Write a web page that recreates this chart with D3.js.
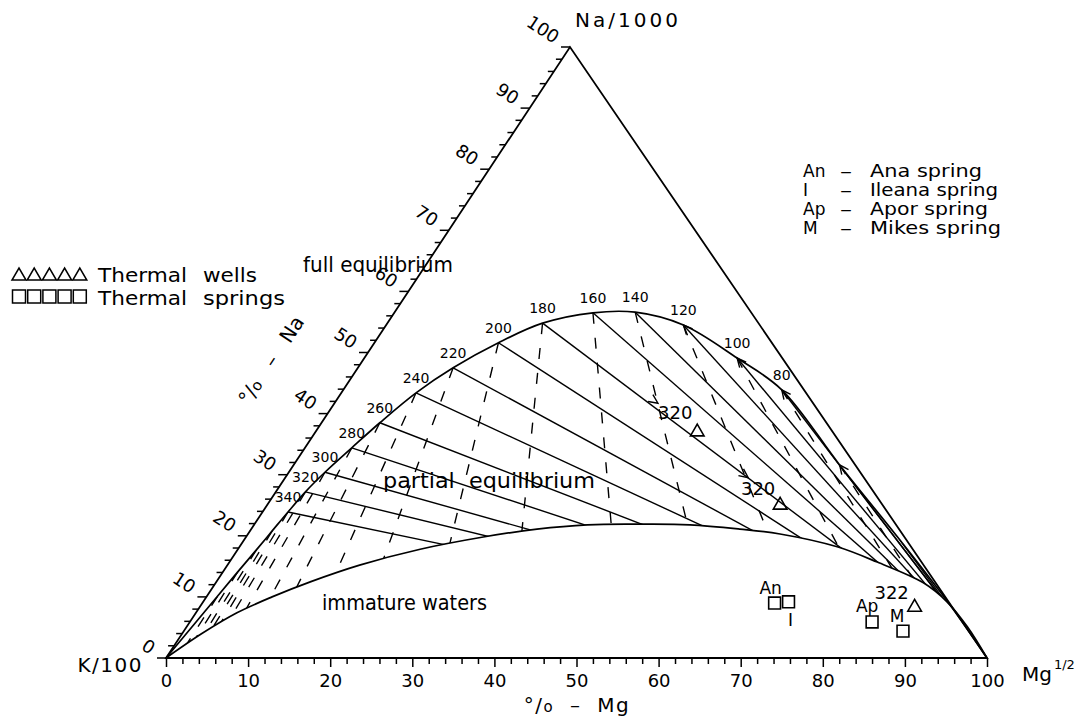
<!DOCTYPE html>
<html><head><meta charset="utf-8">
<script src="https://cdn.jsdelivr.net/npm/d3@7"></script>
<style>
body{margin:0;background:#fff}
svg{display:block}
text{font-family:"DejaVu Sans",sans-serif;fill:#000}
</style>
</head><body>
<svg id="c" width="1084" height="727"></svg>
<script>
// ---------------- data ----------------
const vertexNames = ["K/100", "Mg", "Na/1000"];
const axisTicks = d3.range(0, 101, 2);
const axisTitleMg = "Mg";
const axisTitleNa = "Na";

// full equilibrium curve (K vertex -> Mg vertex), %Mg, %Na, temperature label
const eqTemp = ["", "", "", "", "", "340", "320", "300", "280", "260", "240", "220", "200", "180", "160", "140", "120", "100", "80", "", "", "", ""];
const eqMg   = [0, 1.3, 1.8, 2.3, 2.7, 3.1, 3.6, 4.4, 5.7, 7.1, 9.1, 11.6, 15.1, 18.9, 24.2, 29.3, 36.2, 45.4, 53.4, 66.5, 79.9, 91.2, 100];
const eqNa   = [0, 10.1, 14.1, 17.7, 20.8, 23.9, 27.2, 30.4, 34.4, 38.5, 43.4, 47.5, 51.6, 54.8, 56.5, 56.6, 54.5, 49.1, 43.9, 31.6, 19.3, 8.7, 0];
const eqSolid = [0, 0, 0, 0, 0, 1, 1, 1, 1, 1, 1, 1, 1, 1, 1, 1, 1, 1, 1, 1, 1, 0, 0];
const eqDash  = [0, 1, 1, 1, 1, 1, 1, 1, 1, 1, 1, 1, 1, 1, 1, 1, 1, 1, 1, 1, 0, 0, 0];
const eqArrow = [0, 0, 0, 0, 0, 0, 0, 0, 0, 0, 0, 0, 0, 0, 0, 0, 1, 1, 1, 1, 0, 0, 0];

// immature waters curve (K vertex -> Mg vertex)
const imMg = [0, 2.4, 5.0, 8.0, 11.5, 16.1, 22.2, 28.9, 34.8, 40.6, 46.9, 53.1, 59.5, 64.8, 72.8, 78.9, 86.2, 90.6, 95.1, 100];
const imNa = [0, 4.0, 7.4, 10.0, 12.5, 15.2, 17.8, 19.8, 21.1, 21.8, 21.9, 21.8, 21.1, 20.3, 18.2, 15.7, 12.3, 9.2, 5.1, 0];

// arrow marks on an isotherm
const arrowMg = [39.4, 56.4];
const arrowNa = [41.7, 29.5];

// samples
const wellMg = [46.5, 62.5, 87.1];
const wellNa = [37.0, 25.0, 8.3];
const wellLabel = ["320", "320", "322"];
const springMg = [69.7, 71.3, 83.1, 87.6];
const springNa = [9.0, 9.2, 5.9, 4.4];
const springLabel = ["An", "I", "Ap", "M"];

// legends
const legendSymbols = ["triangle", "square"];
const legendWord1 = ["Thermal", "Thermal"];
const legendWord2 = ["wells", "springs"];
const springCodes = ["An", "I", "Ap", "M"];
const springNames = ["Ana spring", "Ileana spring", "Apor spring", "Mikes spring"];
const regionNames = ["full equilibrium", "partial  equilibrium", "immature waters"];

// ---------------- layout ----------------
const svg = d3.select("#c");
const Kp = [166, 658], Mp = [987, 658], Np = [570, 47];
const mgX = d3.scaleLinear().domain([0, 100]).range([0, Mp[0] - Kp[0]]);
const naX = d3.scaleLinear().domain([0, 100]).range([0, Np[0] - Kp[0]]);
const naY = d3.scaleLinear().domain([0, 100]).range([Kp[1], Np[1]]);
const P = (mg, na) => [Kp[0] + mgX(mg) + naX(na), naY(na)];
const line = d3.line();
const curve = d3.line().curve(d3.curveCatmullRom.alpha(0.5));

const eqPts = eqMg.map((m, i) => P(m, eqNa[i]));
const imPts = imMg.map((m, i) => P(m, imNa[i]));

// clip region: between full equilibrium curve and immature curve
const dEq = curve(eqPts);
const dIm = curve(imPts.slice().reverse());
svg.append("defs").append("clipPath").attr("id", "reg")
  .append("path").attr("d", dEq + dIm.replace(/^M/, "L") + "Z");

// triangle frame
svg.append("path").attr("d", line([Kp, Mp, Np]) + "Z")
  .attr("fill", "none").attr("stroke", "#000").attr("stroke-width", 1.8).attr("stroke-linejoin", "miter");

// bottom axis
const xs = d3.scaleLinear().domain([0, 100]).range([Kp[0], Mp[0]]);
const gx = svg.append("g").attr("transform", `translate(0,${Kp[1]})`)
  .call(d3.axisBottom(xs).tickValues(axisTicks).tickSize(6).tickSizeOuter(0).tickPadding(10)
    .tickFormat(d => d % 10 === 0 ? d : ""));
gx.attr("font-family", null).attr("font-size", null);
gx.select(".domain").remove();
gx.selectAll(".tick line").attr("stroke", "#000").attr("stroke-width", 1.5)
  .attr("y2", d => d % 10 === 0 ? 9 : 6);
gx.selectAll(".tick text").attr("font-size", 18).attr("fill", "#000");

// left axis (%Na)
const gl = svg.append("g");
const ang = Math.atan2(Np[1] - Kp[1], Np[0] - Kp[0]);
const nrm = [Math.sin(ang), -Math.cos(ang)]; // outward normal
const rotDeg = ang * 180 / Math.PI + 90;
axisTicks.forEach(v => {
  const p = P(0, v);
  gl.append("line").attr("x1", p[0]).attr("y1", p[1]).attr("x2", p[0] - (v % 10 === 0 ? 9 : 6)).attr("y2", p[1])
    .attr("stroke", "#000").attr("stroke-width", 1.5);
  if (v % 10 === 0) {
    const q = [p[0] + nrm[0] * 15, p[1] + nrm[1] * 15];
    gl.append("text").attr("x", q[0]).attr("y", q[1]).attr("text-anchor", "end")
      .attr("dominant-baseline", "central").attr("font-size", 18)
      .attr("transform", `rotate(${rotDeg},${q[0]},${q[1]})`).text(v);
  }
});

// curves
svg.append("path").attr("d", dEq).attr("fill", "none").attr("stroke", "#000").attr("stroke-width", 1.7);
svg.append("path").attr("d", curve(imPts)).attr("fill", "none").attr("stroke", "#000").attr("stroke-width", 1.7);

// isotherms
const gi = svg.append("g").attr("clip-path", "url(#reg)");
eqPts.forEach((p, i) => {
  if (eqSolid[i]) {
    gi.append("path").attr("d", line([p, P(100, 0)])).attr("stroke", "#000").attr("stroke-width", 1.4).attr("fill", "none");
  }
  if (eqDash[i]) {
    const mb = eqMg[i] / (1 - eqNa[i] / 100);
    gi.append("path").attr("d", line([p, P(mb, 0)])).attr("stroke", "#000").attr("stroke-width", 1.4)
      .attr("stroke-dasharray", "11,14").attr("fill", "none");
  }
});

// arrowheads
function arrow(tip, from) {
  const dx = tip[0] - from[0], dy = tip[1] - from[1], L = Math.hypot(dx, dy);
  const ux = dx / L, uy = dy / L, a = 25 * Math.PI / 180, s = 10;
  const b1 = [tip[0] - s * (ux * Math.cos(a) - uy * Math.sin(a)), tip[1] - s * (uy * Math.cos(a) + ux * Math.sin(a))];
  const b2 = [tip[0] - s * (ux * Math.cos(-a) - uy * Math.sin(-a)), tip[1] - s * (uy * Math.cos(-a) + ux * Math.sin(-a))];
  svg.append("path").attr("d", line([b1, tip, b2])).attr("fill", "none").attr("stroke", "#000").attr("stroke-width", 1.4);
}
eqPts.forEach((p, i) => { if (eqArrow[i]) arrow(p, P(100, 0)); });
arrowMg.forEach((m, i) => { const p = P(m, arrowNa[i]); arrow(p, P(eqMg[13], eqNa[13])); });

// temperature labels
eqPts.forEach((p, i) => {
  if (eqTemp[i]) svg.append("text").attr("x", p[0]).attr("y", p[1] - 10).attr("text-anchor", "middle")
    .attr("font-size", 14).text(eqTemp[i]);
});

// region labels
svg.append("text").attr("x", 303).attr("y", 272).attr("font-size", 21).attr("textLength", 150).attr("lengthAdjust", "spacingAndGlyphs").text(regionNames[0]);
svg.append("text").attr("x", 383).attr("y", 488).attr("font-size", 21).attr("xml:space", "preserve").attr("textLength", 212).attr("lengthAdjust", "spacingAndGlyphs").text(regionNames[1]);
svg.append("text").attr("x", 322).attr("y", 610).attr("font-size", 21).attr("textLength", 165).attr("lengthAdjust", "spacingAndGlyphs").text(regionNames[2]);

// samples
const triSym = d3.symbol().type(d3.symbolTriangle).size(80);
const sqSym = d3.symbol().type(d3.symbolSquare).size(140);
const wellOff = [[-22, -19], [-22, -17], [-23, -15]];
wellMg.forEach((m, i) => {
  const p = P(m, wellNa[i]);
  svg.append("path").attr("d", triSym()).attr("transform", `translate(${p[0]},${p[1]})`)
    .attr("fill", "none").attr("stroke", "#000").attr("stroke-width", 1.6);
  svg.append("text").attr("x", p[0] + wellOff[i][0]).attr("y", p[1] + wellOff[i][1]).attr("text-anchor", "middle")
    .attr("dominant-baseline", "central").attr("font-size", 18).text(wellLabel[i]);
});
const sprOff = [[-4, -15], [2, 18], [-5, -16], [-6, -15]];
springMg.forEach((m, i) => {
  const p = P(m, springNa[i]);
  svg.append("path").attr("d", sqSym()).attr("transform", `translate(${p[0]},${p[1]})`)
    .attr("fill", "none").attr("stroke", "#000").attr("stroke-width", 1.6);
  svg.append("text").attr("x", p[0] + sprOff[i][0]).attr("y", p[1] + sprOff[i][1]).attr("text-anchor", "middle")
    .attr("dominant-baseline", "central").attr("font-size", 17).text(springLabel[i]);
});

// vertex labels
svg.append("text").attr("x", 143).attr("y", 672).attr("text-anchor", "end").attr("font-size", 20).attr("letter-spacing", 1.5).text(vertexNames[0]);
const mgT = svg.append("text").attr("x", 1022).attr("y", 681).attr("font-size", 20);
mgT.append("tspan").text(vertexNames[1]);
mgT.append("tspan").attr("dy", -12).attr("dx", 2).attr("font-size", 13).text("1/2");
svg.append("text").attr("x", 575).attr("y", 27).attr("font-size", 20).attr("textLength", 103).attr("lengthAdjust", "spacing").text(vertexNames[2]);

// axis titles
const tb = svg.append("text").attr("x", 577).attr("y", 712).attr("text-anchor", "middle").attr("font-size", 20)
  .attr("xml:space", "preserve").attr("letter-spacing", 1.5);
tb.append("tspan").text("°/");
tb.append("tspan").attr("font-size", 15).text("o");
tb.append("tspan").text("  –  " + axisTitleMg);

const tcx = 277, tcy = 364;
const tl = svg.append("text").attr("x", tcx).attr("y", tcy).attr("text-anchor", "middle").attr("font-size", 20)
  .attr("xml:space", "preserve").attr("transform", `rotate(${ang * 180 / Math.PI},${tcx},${tcy})`);
tl.append("tspan").text("°/");
tl.append("tspan").attr("font-size", 15).text("o");
tl.append("tspan").text("   –   " + axisTitleNa);

// left legend
legendSymbols.forEach((s, r) => {
  const base = r === 0 ? 282 : 305;
  for (let k = 0; k < 5; k++) {
    const cx = 19 + k * 15.2;
    if (s === "triangle") {
      svg.append("path").attr("d", line([[cx - 7, base - 2], [cx + 7, base - 2], [cx, base - 14]]) + "Z")
        .attr("fill", "none").attr("stroke", "#000").attr("stroke-width", 1.5);
    } else {
      svg.append("rect").attr("x", cx - 6.5).attr("y", base - 15).attr("width", 13).attr("height", 13)
        .attr("fill", "none").attr("stroke", "#000").attr("stroke-width", 1.5);
    }
  }
  svg.append("text").attr("x", 98).attr("y", base).attr("font-size", 20).attr("textLength", 89).attr("lengthAdjust", "spacingAndGlyphs").text(legendWord1[r]);
  svg.append("text").attr("x", 203).attr("y", base).attr("font-size", 20)
    .attr("textLength", r === 0 ? 54 : 82).attr("lengthAdjust", "spacingAndGlyphs").text(legendWord2[r]);
});

// right legend
const nameW = [112, 128, 118, 131];
springCodes.forEach((c, i) => {
  const y = 177 + i * 19;
  svg.append("text").attr("x", 803).attr("y", y).attr("font-size", 17).text(c);
  svg.append("text").attr("x", 840).attr("y", y).attr("font-size", 17).attr("textLength", 12)
    .attr("lengthAdjust", "spacingAndGlyphs").text("–");
  svg.append("text").attr("x", 870).attr("y", y).attr("font-size", 17).attr("textLength", nameW[i])
    .attr("lengthAdjust", "spacingAndGlyphs").text(springNames[i]);
});
</script>
</body></html>
